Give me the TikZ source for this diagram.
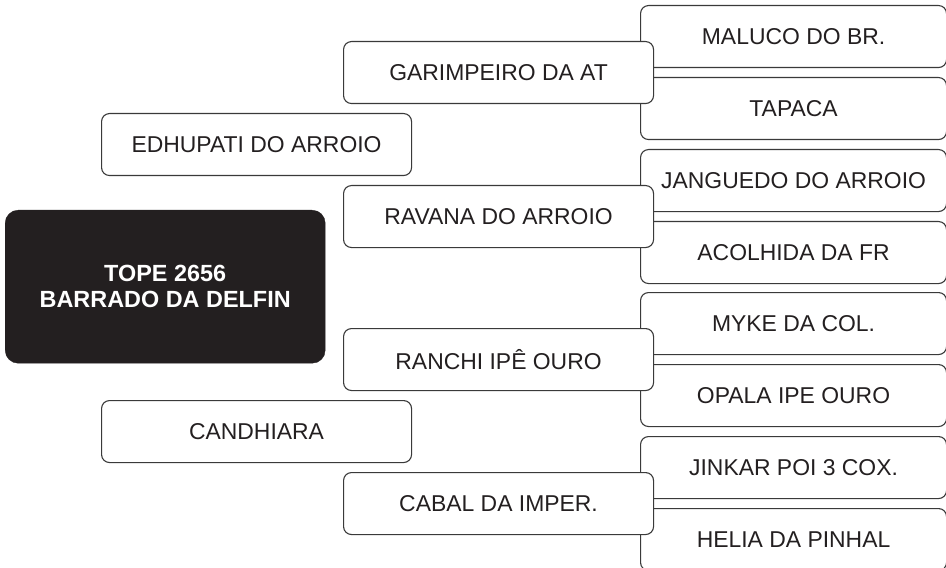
\documentclass[tikz,border=0pt]{standalone}
\usepackage{fontspec}
\setmainfont{Liberation Sans}
\definecolor{linegray}{HTML}{3A3A3A}
\definecolor{textblack}{HTML}{231F20}
\begin{document}
\begin{tikzpicture}[x=1bp,y=-1bp,
  wbox/.style={draw=linegray, line width=1.1bp, rounded corners=8bp, fill=white,
    anchor=north west, inner sep=0pt, text=textblack,
    font=\fontsize{23}{27}\selectfont},
  midbox/.style={wbox, minimum width=310bp, minimum height=62bp},
  rbox/.style={wbox, minimum width=306bp, minimum height=62bp},
  rootbox/.style={fill=textblack, draw=textblack, rounded corners=13bp, anchor=north west,
    minimum width=320bp, minimum height=153bp, text=white, align=center,
    font=\bfseries\fontsize{23.5}{26.5}\selectfont, inner sep=0pt},
]
\useasboundingbox (0,0) rectangle (946,568);
\node[rootbox] (root) at (5,210) {TOPE 2656\\BARRADO DA DELFIN};
\node[midbox] (edh) at (101,113) {EDHUPATI DO ARROIO};
\node[midbox] (can) at (101,400) {CANDHIARA};
% group 1
\node[rbox] (mal) at (640,5) {MALUCO DO BR.};
\node[rbox] (tap) at (640,77) {TAPACA};
\node[midbox] (gar) at (343,41) {GARIMPEIRO DA AT};
% group 2
\node[rbox] (jan) at (640,149) {JANGUEDO DO ARROIO};
\node[rbox] (aco) at (640,221) {ACOLHIDA DA FR};
\node[midbox] (rav) at (343,185) {RAVANA DO ARROIO};
% group 3
\node[rbox] (myk) at (640,292) {MYKE DA COL.};
\node[rbox] (opa) at (640,364) {OPALA IPE OURO};
\node[midbox] (ran) at (343,328) {RANCHI IPÊ OURO};
% group 4
\node[rbox] (jin) at (640,436) {JINKAR POI 3 COX.};
\node[rbox] (hel) at (640,508) {HELIA DA PINHAL};
\node[midbox] (cab) at (343,472) {CABAL DA IMPER.};
\end{tikzpicture}
\end{document}
